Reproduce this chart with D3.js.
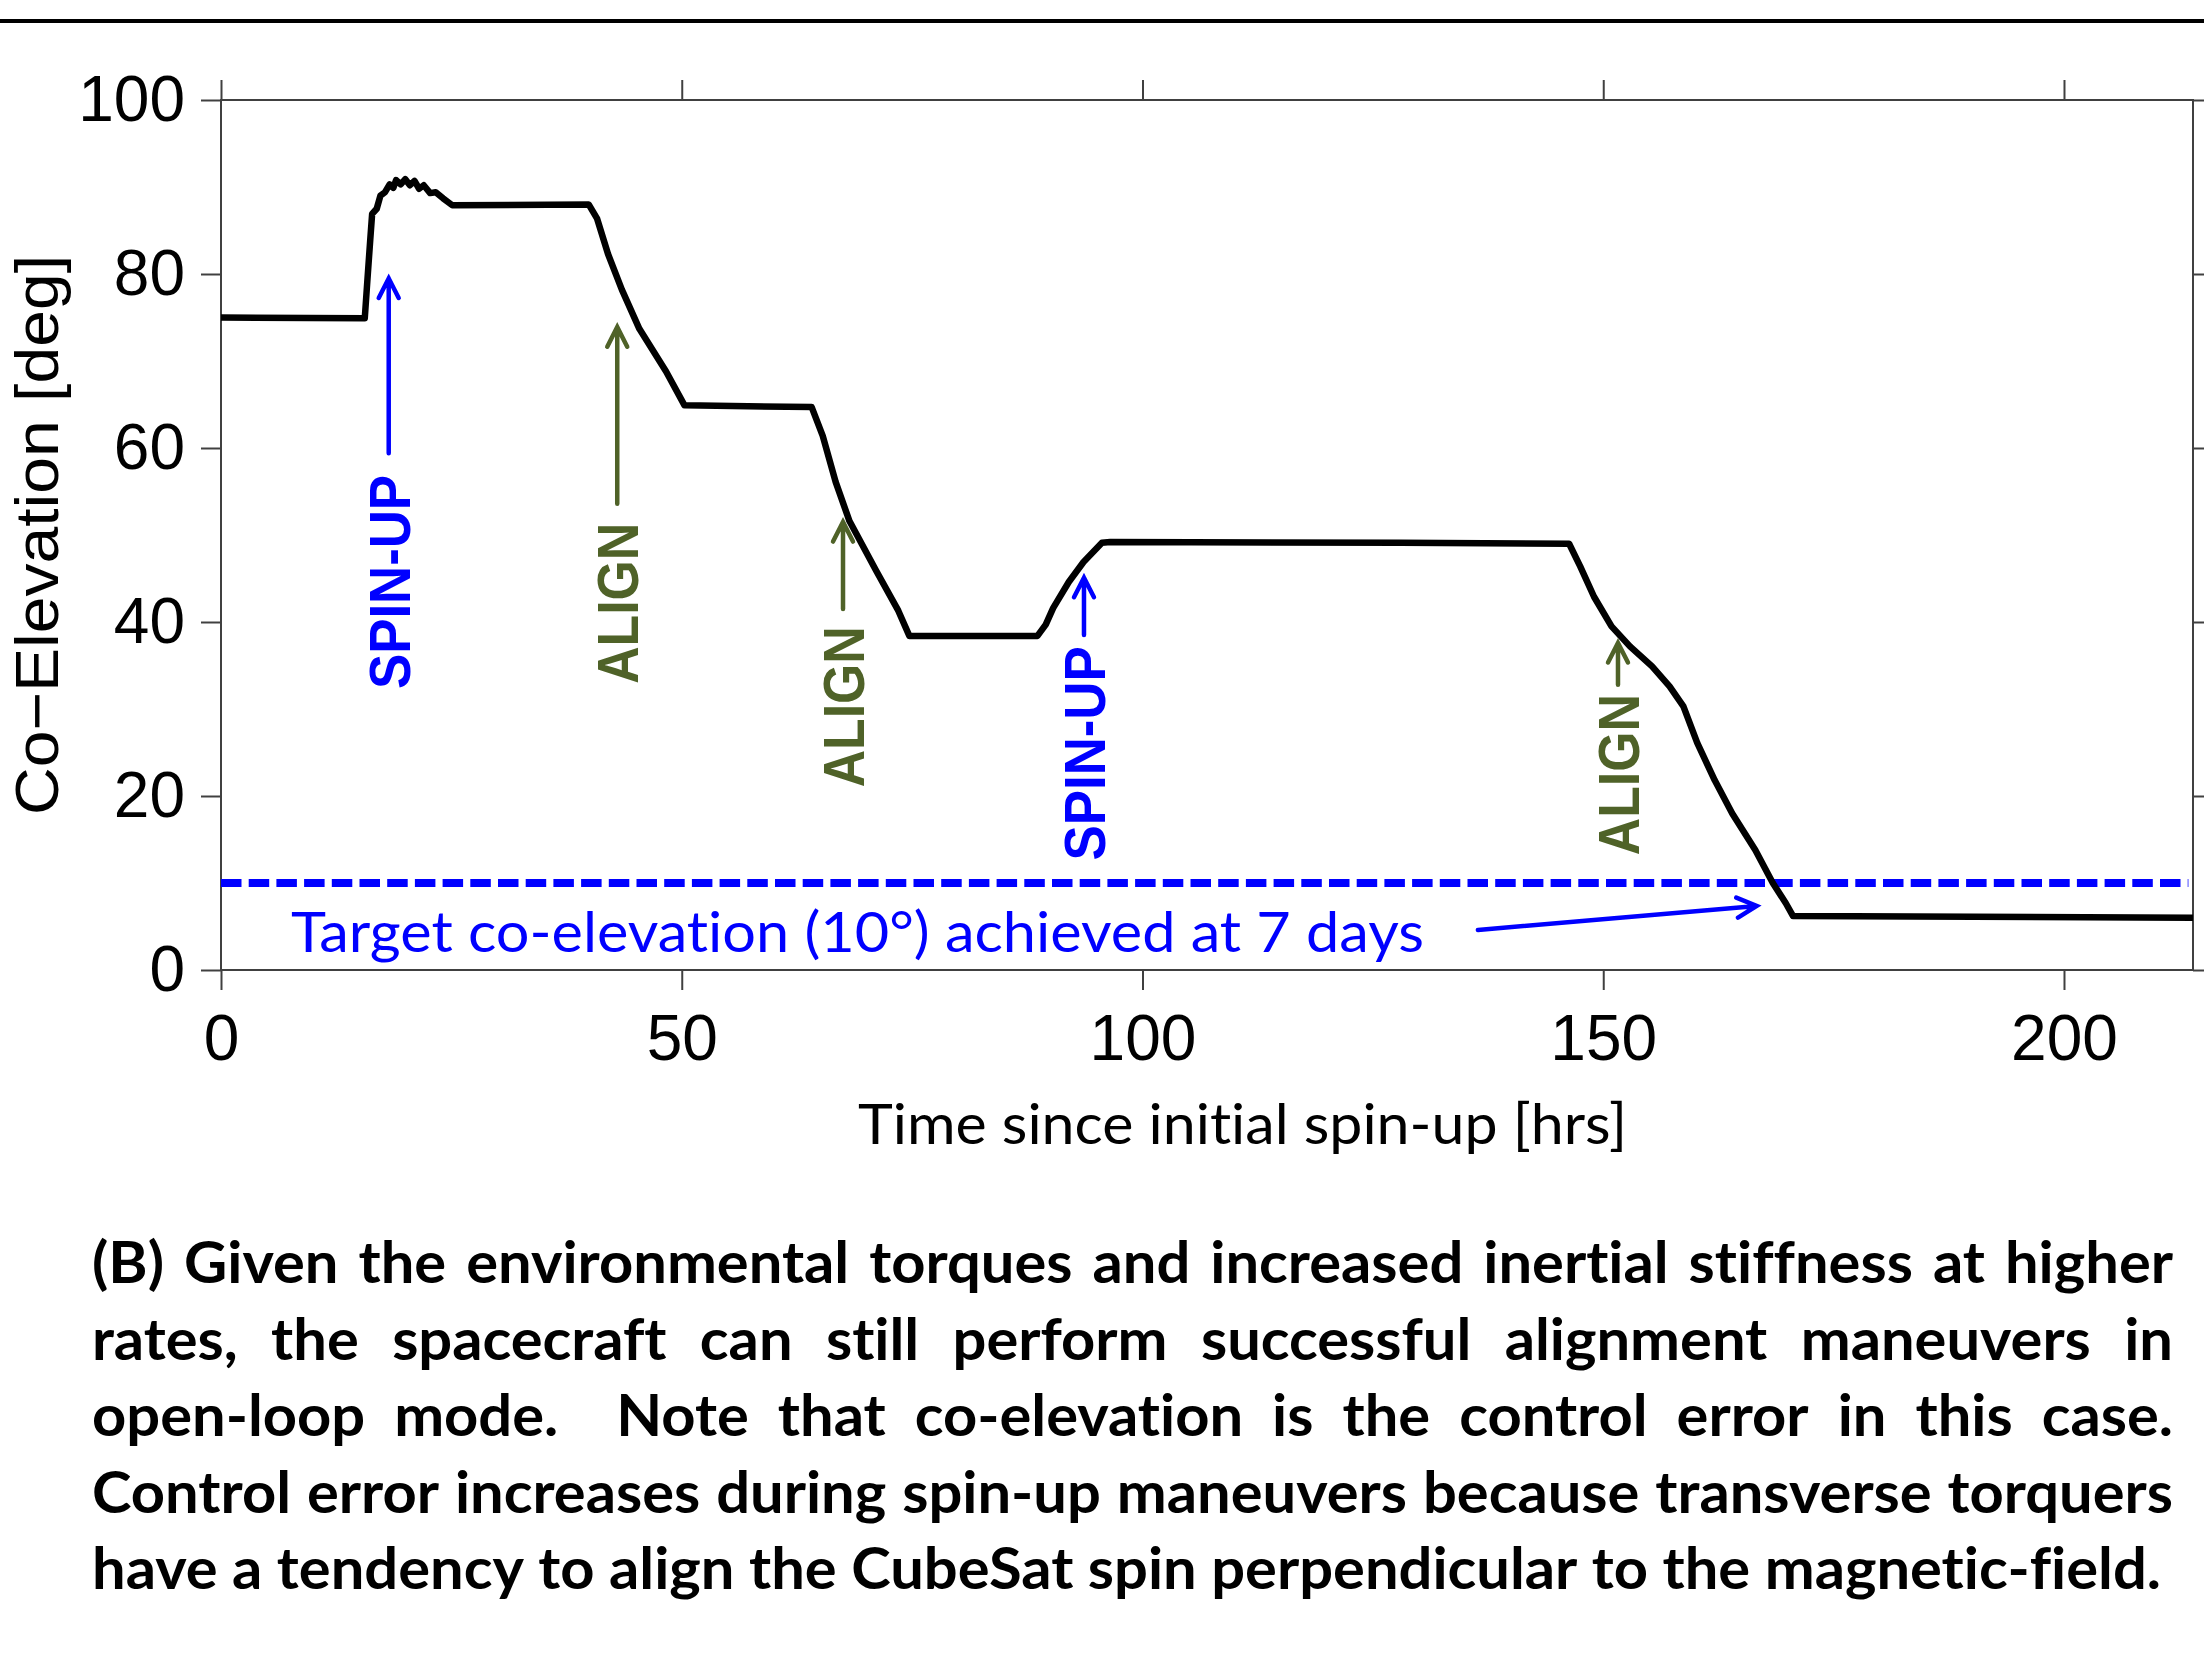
<!DOCTYPE html>
<html>
<head>
<meta charset="utf-8">
<script src="https://cdn.jsdelivr.net/npm/d3@7"></script>
<style>
  body { margin: 0; background: #fff; }
  svg { display: block; font-variant-ligatures: none; }
  text { font-variant-ligatures: none; }
</style>
</head>
<body>
<svg width="2204" height="1659"></svg>
<script>
// data
const timeHrs = [0, 15.6, 15.9, 16.2, 16.4, 16.9, 17.3, 17.8, 18.3, 18.7, 19.0, 19.5, 20.0, 20.5, 21.0, 21.5, 22.0, 22.7, 23.3, 24.1, 25.1,
  39.9, 40.8, 42.0, 43.5, 45.4, 48.3, 50.3, 64.1, 65.3, 66.7, 68.2, 71.1, 73.5, 74.7, 88.6, 89.5, 90.3, 92.0, 93.6, 95.6, 96.5,
  128, 146.3, 147.5, 149.0, 150.9, 152.9, 155.3, 157.2, 158.7, 160.2, 162.1, 164.0, 166.5, 168.4, 169.8, 170.6, 214];
const coElevation = [75.0, 74.9, 79.5, 84.0, 86.9, 87.5, 89.0, 89.4, 90.3, 89.9, 90.8, 90.3, 90.9, 90.2, 90.7, 89.8, 90.2, 89.3, 89.4, 88.7, 87.9,
  88.0, 86.4, 82.3, 78.2, 73.7, 68.8, 64.9, 64.7, 61.4, 56.1, 51.6, 45.9, 41.3, 38.4, 38.4, 39.7, 41.6, 44.6, 46.9, 49.1, 49.2,
  49.1, 49.0, 46.4, 42.9, 39.5, 37.2, 34.9, 32.6, 30.3, 26.1, 21.8, 18.0, 13.8, 10.0, 7.7, 6.2, 6.0];

const xTicks = [0, 50, 100, 150, 200];
const yTicks = [0, 20, 40, 60, 80, 100];
const targetCoElevation = 10;

// maneuver markers (arrow time, arrow tip, arrow tail, label start)
const markerLabels = ['SPIN-UP', 'ALIGN', 'ALIGN', 'SPIN-UP', 'ALIGN'];
const markerTime = [18.2, 43.0, 67.5, 93.65, 151.6];
const markerTip = [79.5, 73.9, 51.5, 45.1, 37.6];
const markerTail = [59.4, 53.6, 41.5, 38.5, 32.8];
const markerTextStart = [32.3, 32.9, 21.0, 12.6, 13.2];

const targetNote = 'Target co-elevation (10°) achieved at 7 days';
const targetArrowFrom = [136.4, 4.6];
const targetArrowTo = [166.65, 7.36];

const captionLines = [
  '(B) Given the environmental torques and increased inertial stiffness at higher',
  'rates, the spacecraft can still perform successful alignment maneuvers in',
  'open-loop mode.  Note that co-elevation is the control error in this case.',
  'Control error increases during spin-up maneuvers because transverse torquers',
  'have a tendency to align the CubeSat spin perpendicular to the magnetic-field.'
];

const svg = d3.select('svg');
const width = +svg.attr('width');

const BLUE = '#0000ff';
const OLIVE = '#4f6228';
const AXIS = '#404040';

const plot = {left: 221, right: 2193, top: 100, bottom: 970};

const x = d3.scaleLinear().domain([0, 214]).range([plot.left, plot.right]);
const y = d3.scaleLinear().domain([0, 100]).range([plot.bottom, plot.top]);

// rule across the top of the page
svg.append('line')
  .attr('x1', 0).attr('x2', width)
  .attr('y1', 21).attr('y2', 21)
  .attr('stroke', '#000').attr('stroke-width', 4);

const styleAxis = g => {
  g.select('.domain').remove();
  g.selectAll('.tick line').attr('stroke', AXIS).attr('stroke-width', 2);
  g.selectAll('.tick text')
    .attr('fill', '#000')
    .style('font-family', '"Liberation Sans", Arial, sans-serif')
    .style('font-size', '64px');
};

svg.append('g')
  .attr('transform', `translate(0,${plot.bottom})`)
  .call(d3.axisBottom(x).tickValues(xTicks).tickSize(20).tickPadding(25).tickSizeOuter(0))
  .call(styleAxis);

svg.append('g')
  .attr('transform', `translate(0,${plot.top})`)
  .call(d3.axisTop(x).tickValues(xTicks).tickSize(20).tickFormat('').tickSizeOuter(0))
  .call(styleAxis);

svg.append('g')
  .attr('transform', `translate(${plot.left},0)`)
  .call(d3.axisLeft(y).tickValues(yTicks).tickSize(20).tickPadding(16).tickSizeOuter(0))
  .call(styleAxis);

svg.append('g')
  .attr('transform', `translate(${plot.right},0)`)
  .call(d3.axisRight(y).tickValues(yTicks).tickSize(20).tickFormat('').tickSizeOuter(0))
  .call(styleAxis);

svg.append('rect')
  .attr('x', plot.left).attr('y', plot.top)
  .attr('width', plot.right - plot.left).attr('height', plot.bottom - plot.top)
  .attr('fill', 'none').attr('stroke', AXIS).attr('stroke-width', 2);

// y label
svg.append('text')
  .attr('transform', `translate(58,${(plot.top + plot.bottom) / 2}) rotate(-90)`)
  .attr('text-anchor', 'middle')
  .attr('textLength', 560).attr('lengthAdjust', 'spacingAndGlyphs')
  .style('font-family', '"Liberation Sans", Arial, sans-serif')
  .style('font-size', '62px')
  .text('Co−Elevation [deg]');

// x label
svg.append('text')
  .attr('x', 858).attr('y', 1144)
  .attr('textLength', 769).attr('lengthAdjust', 'spacingAndGlyphs')
  .style('font-family', 'Lato, "Open Sans", sans-serif')
  .style('font-size', '56px')
  .text('Time since initial spin-up [hrs]');

// target line
svg.append('line')
  .attr('x1', x(0)).attr('x2', x(213.5))
  .attr('y1', y(targetCoElevation)).attr('y2', y(targetCoElevation))
  .attr('stroke', BLUE).attr('stroke-width', 8)
  .attr('stroke-dasharray', '20.5,7.2');

// co-elevation curve
const series = timeHrs.map((t, i) => ({t, v: coElevation[i]}));
svg.append('path')
  .datum(series)
  .attr('fill', 'none')
  .attr('stroke', '#000')
  .attr('stroke-width', 6.5)
  .attr('stroke-linejoin', 'round')
  .attr('d', d3.line().x(d => x(d.t)).y(d => y(d.v)));

const arrow = (x1, y1, x2, y2, color, w) => {
  const a = Math.atan2(y2 - y1, x2 - x1);
  const len = 22, spread = 27 * Math.PI / 180;
  const p1 = [x2 + len * Math.cos(a + Math.PI - spread), y2 + len * Math.sin(a + Math.PI - spread)];
  const p2 = [x2 + len * Math.cos(a + Math.PI + spread), y2 + len * Math.sin(a + Math.PI + spread)];
  svg.append('path')
    .attr('d', `M${x1},${y1}L${x2},${y2}M${p1[0]},${p1[1]}L${x2},${y2}L${p2[0]},${p2[1]}`)
    .attr('fill', 'none').attr('stroke', color)
    .attr('stroke-width', w).attr('stroke-linecap', 'round').attr('stroke-linejoin', 'miter');
};

markerLabels.forEach((label, i) => {
  const color = label === 'ALIGN' ? OLIVE : BLUE;
  const xp = x(markerTime[i]);
  arrow(xp, y(markerTail[i]), xp, y(markerTip[i]), color, 4.5);
  svg.append('text')
    .attr('transform', `translate(${xp + 21},${y(markerTextStart[i])}) rotate(-90)`)
    .attr('textLength', label === 'ALIGN' ? 161 : 214)
    .attr('lengthAdjust', 'spacingAndGlyphs')
    .attr('fill', color)
    .style('font-family', '"Liberation Sans", Arial, sans-serif')
    .style('font-weight', 'bold')
    .style('font-size', '57px')
    .text(label);
});

// target note
svg.append('text')
  .attr('x', 291).attr('y', 952)
  .attr('textLength', 1133).attr('lengthAdjust', 'spacingAndGlyphs')
  .attr('fill', BLUE)
  .style('font-family', 'Lato, "Open Sans", sans-serif')
  .style('font-size', '56px')
  .text(targetNote);
arrow(x(targetArrowFrom[0]), y(targetArrowFrom[1]), x(targetArrowTo[0]), y(targetArrowTo[1]), BLUE, 4.5);

// caption, justified word by word
const cap = svg.append('g')
  .style('font-family', 'Lato, "Open Sans", sans-serif')
  .style('font-weight', 'bold')
  .style('font-size', '57px');
const capLeft = 92, capRight = 2173, capTop = 1283, capStep = 76.6;

const measure = s => {
  const t = cap.append('text').text(s);
  const w = t.node().getComputedTextLength();
  t.remove();
  return w;
};
const lastW = measure(captionLines[captionLines.length - 1]);
const squeeze = (2158 - capLeft) / lastW;
const spaceW = measure('a a') - measure('aa');

captionLines.forEach((line, li) => {
  const words = line.split(' ');
  const widths = words.map(w => (w ? measure(w) * squeeze : 0));
  const total = d3.sum(widths);
  const isLast = li === captionLines.length - 1;
  const gap = isLast ? spaceW * squeeze : (capRight - capLeft - total) / (words.length - 1);
  let cx = capLeft;
  words.forEach((w, wi) => {
    if (w) {
      cap.append('text')
        .attr('x', cx).attr('y', capTop + li * capStep)
        .attr('textLength', widths[wi]).attr('lengthAdjust', 'spacingAndGlyphs')
        .text(w);
    }
    cx += widths[wi] + gap;
  });
});
</script>
</body>
</html>
